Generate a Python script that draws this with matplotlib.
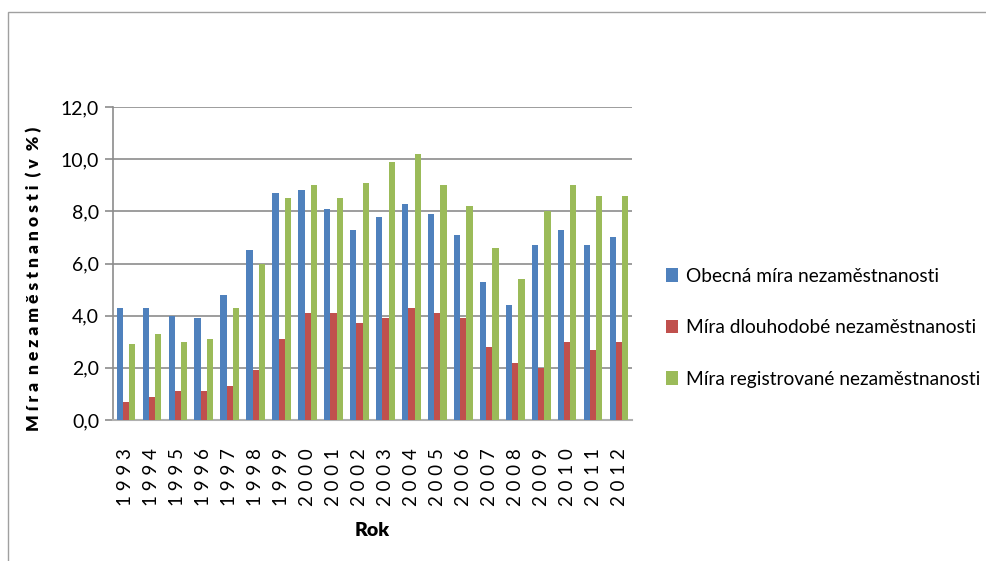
import matplotlib.pyplot as plt
import numpy as np
from matplotlib.patches import Rectangle

plt.rcParams['font.family'] = ['Lato', 'DejaVu Sans']

# Data
years = [str(y) for y in range(1993, 2013)]
obecna = [4.3, 4.3, 4.0, 3.9, 4.8, 6.5, 8.7, 8.8, 8.1, 7.3, 7.8,
          8.3, 7.9, 7.1, 5.3, 4.4, 6.7, 7.3, 6.7, 7.0]
dlouhodoba = [0.7, 0.9, 1.1, 1.1, 1.3, 1.9, 3.1, 4.1, 4.1, 3.7, 3.9,
              4.3, 4.1, 3.9, 2.8, 2.2, 2.0, 3.0, 2.7, 3.0]
registrovana = [2.9, 3.3, 3.0, 3.1, 4.3, 6.0, 8.5, 9.0, 8.5, 9.1, 9.9,
                10.2, 9.0, 8.2, 6.6, 5.4, 8.0, 9.0, 8.6, 8.6]
labels = ['Obecná míra nezaměstnanosti',
          'Míra dlouhodobé nezaměstnanosti',
          'Míra registrované nezaměstnanosti']
colors = ['#4F81BD', '#C0504D', '#9BBB59']

fig = plt.figure(figsize=(9.86, 5.61), dpi=100)
ax = fig.add_axes([113 / 986, 1 - 420 / 561, (632 - 113) / 986, (420 - 107) / 561])

x = np.arange(len(years))
w = 0.24
for i, (vals, lab, c) in enumerate(zip([obecna, dlouhodoba, registrovana], labels, colors)):
    ax.bar(x + (i - 1) * w, vals, width=w, color=c, label=lab, zorder=3)

ax.set_xlim(-0.5, len(years) - 0.5)
ax.set_ylim(0, 12)
ax.set_yticks(np.arange(0, 12.1, 2))
ax.set_yticklabels([f'{v:.1f}'.replace('.', ',') for v in np.arange(0, 12.1, 2)], fontsize=14)
ax.set_xticks(x)
ax.set_xticklabels([' '.join(y) for y in years], rotation=90, fontsize=13.5)
ax.tick_params(axis='x', length=0, pad=20)
ax.tick_params(axis='y', length=6, color='#8c8c8c', width=1.2, pad=4)

ax.grid(axis='y', color='#8c8c8c', linewidth=1.2, zorder=0)
for s in ['top', 'right']:
    ax.spines[s].set_visible(False)
ax.spines['left'].set_color('#8c8c8c')
ax.spines['bottom'].set_color('#b0b0b0')
ax.spines['left'].set_linewidth(1.2)
ax.spines['bottom'].set_linewidth(1.5)

ax.set_ylabel('M í r a  n e z a m ě s t n a n o s t i  ( v  % )', fontsize=12.5,
              fontweight='heavy')
ax.yaxis.set_label_coords(-0.137, 0.45)
ax.set_xlabel('Rok', fontsize=14, fontweight='heavy', labelpad=12)

ax.legend(loc='center left', bbox_to_anchor=(1.033, 0.295), frameon=False,
          fontsize=13.8, handlelength=0.6, handleheight=0.7, handletextpad=0.4,
          labelspacing=1.8)

# chart border
fig.patches.append(Rectangle((8 / 986, -0.01), 1.0, 1 - 12 / 561 + 0.01,
                             transform=fig.transFigure, fill=False,
                             edgecolor='#a0a0a0', linewidth=1.0))

fig.savefig('out.png', dpi=100)
